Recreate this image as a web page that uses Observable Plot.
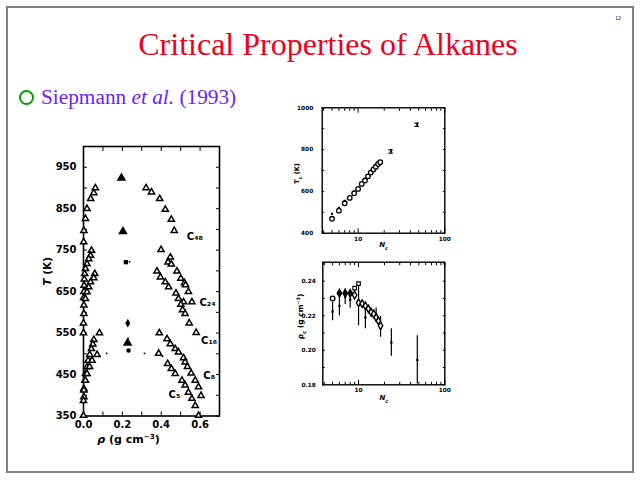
<!DOCTYPE html>
<html><head><meta charset="utf-8">
<script src="https://cdn.jsdelivr.net/npm/d3@7"></script>
<script src="https://cdn.jsdelivr.net/npm/@observablehq/plot@0.6"></script>
<style>
 html,body{margin:0;padding:0;background:#fff;}
 #page{position:relative;width:640px;height:480px;overflow:hidden;background:#fff;}
 #frame{position:absolute;left:6px;top:6px;width:624px;height:463px;border:2px solid #808080;}
 #pagenum{position:absolute;left:615px;top:15px;font:6px "Liberation Serif";color:#000;}
 #title{position:absolute;left:0;top:28px;width:656px;text-align:center;font-family:"Liberation Serif";font-size:32px;line-height:32px;color:#f0001c;white-space:nowrap;}
 #bullet{position:absolute;left:19px;top:90px;width:11px;height:11px;border:2px solid #00a000;border-radius:50%;}
 #sub{position:absolute;left:41px;top:86px;font-family:"Liberation Serif";font-size:21.3px;line-height:22px;color:#6a22ff;white-space:nowrap;}
 .chart{position:absolute;}
 .chart svg{overflow:visible;}
 #main{left:0;top:140px;}
 #inset1{left:285px;top:100px;}
 #inset2{left:285px;top:255px;}
</style></head>
<body><div id="page">
 <div id="frame"></div>
 <div id="pagenum">12</div>
 <div id="title">Critical Properties of Alkanes</div>
 <div id="bullet"></div>
 <div id="sub">Siepmann <i>et al.</i> (1993)</div>
 <div id="main" class="chart"></div>
 <div id="inset1" class="chart"></div>
 <div id="inset2" class="chart"></div>
</div>
<script>
// ---------- Main chart: coexistence curves [density g/cm3, T K] ----------
const c48Vapor  = [[0.061,900],[0.053,888],[0.037,874],[0.018,850],[0.010,826],[0.002,797],[0.001,770]];
const c48Liquid = [[0.322,900],[0.350,890],[0.392,874],[0.421,848],[0.452,824],[0.467,797]];
const c24Vapor  = [[0.041,749],[0.036,737],[0.027,729],[0.018,717],[0.010,705],[0.006,693],[0.004,680],[0.003,665],[0.002,650],[0.001,635]];
const c24Liquid = [[0.399,751],[0.447,733],[0.435,721],[0.452,716],[0.481,699],[0.501,682],[0.520,671],[0.525,666],[0.540,650],[0.515,625],[0.558,625]];
const c16Vapor  = [[0.058,693],[0.053,683],[0.036,673],[0.027,661],[0.018,649],[0.010,633],[0.002,617],[0.002,597],[0.000,574],[0.000,550]];
const c16Liquid = [[0.378,699],[0.396,685],[0.421,673],[0.438,661],[0.476,646],[0.489,633],[0.501,619],[0.510,606],[0.523,597],[0.544,574],[0.580,551]];
const c8Vapor   = [[0.082,550],[0.053,534],[0.048,523],[0.041,512],[0.032,498],[0.024,484],[0.018,468],[0.010,452],[0.007,436],[0.002,416],[0.002,396]];
const c8Liquid  = [[0.390,550],[0.430,536],[0.447,524],[0.472,512],[0.489,504],[0.515,490],[0.523,480],[0.535,469],[0.554,453],[0.575,436],[0.592,420],[0.605,399]];
const c5Vapor   = [[0.070,498],[0.044,484],[0.031,469],[0.018,452],[0.010,436],[0.002,412],[0.000,387],[0.000,351]];
const c5Liquid  = [[0.387,501],[0.433,476],[0.452,464],[0.472,452],[0.507,436],[0.523,424],[0.540,407],[0.558,392],[0.575,375],[0.592,351]];
// critical-point / estimate markers
const critTriangles = [[0.195,924],[0.203,795],[0.227,526]];
const critSquares   = [[0.218,721]];
const critDiamonds  = [[0.228,574]];
const critCircles   = [[0.232,508]];
const smallDots     = [[0.237,722],[0.119,501],[0.314,501],[0.230,537],[0.407,494]];
// curve labels
const curveLabels = ["C₄₈","C₂₄","C₁₆","C₈","C₅"];
const labelRho    = [0.532,0.597,0.605,0.617,0.438];
const labelT      = [783,622,532,448,402];
// axis ticks
const mainYLabels = [350,450,550,650,750,850,950];
const mainYTicks  = [350,400,450,500,550,600,650,700,750,800,850,900,950,1000];
const mainXLabels = [0,0.2,0.4,0.6];
const mainXTicks  = [0,0.1,0.2,0.3,0.4,0.5,0.6,0.7];

// ---------- Inset 1: Tc vs Nc ----------
const tcN      = [5,6,7,8,9,10,11,12,13,14,15,16,17,18];
const tcValues = [469,508,543,569,591,612,636,652,672,690,705,718,731,740];
const tcSqN    = [5,6,7];
const tcSqT    = [493,521,555];
const tcLongN  = [24,48];
const tcLongT  = [791,919];
const tcLongErr= [8,8];
const tcYLabels = [400,600,800,1000];
const tcYTicks  = [400,500,600,700,800,900,1000];

// ---------- Inset 2: rho_c vs Nc ----------
const rhoN      = [5,6,7,8,9,10,11,12,13,14,15,16,17,18];
const rhoValues = [0.230,0.233,0.233,0.233,0.232,0.2275,0.227,0.2257,0.224,0.222,0.221,0.219,0.217,0.2142];
const rhoOpenSqN = [9,10];
const rhoOpenSqV = [0.236,0.2386];
const rhoSimN   = [5,6,7,8,10,12,16,18,24,48];
const rhoSimV   = [0.2224,0.2257,0.231,0.2293,0.2264,0.219,0.2205,0.2135,0.2045,0.1944];
const rhoSimErr = [0.0053,0.0058,0.0045,0.005,0.0122,0.0065,0.004,0.006,0.008,0.014];
const rhoYLabels = [0.18,0.20,0.22,0.24];
const rhoYTicks  = [0.18,0.19,0.20,0.21,0.22,0.23,0.24,0.25];

const logLabels = [10,100];
const logMinor  = [4,5,6,7,8,9,20,30,40,50,60,70,80,90];

// ---------- helpers ----------
const pts = a => a.map(([x,y]) => ({x,y}));
const NS = "http://www.w3.org/2000/svg";
function richify(svg, map){
  svg.querySelectorAll("text").forEach(t => {
    const key = t.textContent;
    if (!map[key]) return;
    while (t.firstChild) t.removeChild(t.firstChild);
    for (const [s, st] of map[key]) {
      const ts = document.createElementNS(NS, "tspan");
      ts.textContent = s;
      if (st.includes("i")) ts.setAttribute("font-style","italic");
      if (st.includes("sub")) { ts.setAttribute("baseline-shift","sub"); ts.setAttribute("font-size","70%"); }
      if (st.includes("sup")) { ts.setAttribute("baseline-shift","super"); ts.setAttribute("font-size","65%"); }
      t.appendChild(ts);
    }
  });
}
const richMap = {
  "T (K)": [["T","i"],[" (K)",""]],
  "ρ (g cm-3)": [["ρ","i"],[" (g cm",""],["−3","sup"],[")",""]],
  "Tc (K)": [["T",""],["c","sub"],[" (K)",""]],
  "ρc (g cm-3)": [["ρ",""],["c","sub"],[" (g cm",""],["−3","sup"],[")",""]],
  "Nc": [["N","i"],["c","sub"]]
};
function frameAxes(xTicks, yTicks, len){
  return [
    Plot.axisY({anchor:"left", ticks:yTicks, tickSize:-len, fill:"none", label:null}),
    Plot.axisY({anchor:"right", ticks:yTicks, tickSize:-len, fill:"none", label:null}),
    Plot.axisX({anchor:"bottom", ticks:xTicks, tickSize:-len, fill:"none", label:null}),
    Plot.axisX({anchor:"top", ticks:xTicks, tickSize:-len, fill:"none", label:null})
  ];
}
const lab = {textAnchor:"middle", lineAnchor:"middle", fontWeight:"bold"};

// ---------- main chart ----------
const openTri = [c48Vapor,c48Liquid,c24Vapor,c24Liquid,c16Vapor,c16Liquid,c8Vapor,c8Liquid,c5Vapor,c5Liquid].flatMap(pts);
const labels = curveLabels.map((n,i) => ({n, x: labelRho[i], y: labelT[i]}));
const main = Plot.plot({
  width: 230, height: 310,
  marginLeft: 83, marginRight: 11, marginTop: 6, marginBottom: 34.5,
  x: {domain:[0,0.7]}, y: {domain:[350,1000]},
  style: {fontFamily:"DejaVu Sans", fontSize:"10px", fontWeight:"bold", color:"black", background:"transparent"},
  marks: [
    Plot.frame({stroke:"black", strokeWidth:1.6}),
    ...frameAxes(mainXTicks, mainYTicks, 4),
    Plot.axisY({anchor:"left", ticks:mainYLabels, tickSize:0, tickPadding:7, label:null, fontSize:10, fontWeight:"bold"}),
    Plot.axisX({anchor:"bottom", ticks:mainXLabels, tickSize:0, tickPadding:5, tickFormat:d3.format(".1f"), label:null, fontSize:10, fontWeight:"bold"}),
    Plot.dot(openTri, {x:"x", y:"y", symbol:"triangle", r:2.3, fill:"white", stroke:"black", strokeWidth:1.5}),
    Plot.dot(pts(critTriangles), {x:"x", y:"y", symbol:"triangle", r:2.6, fill:"black", stroke:"black"}),
    Plot.dot(pts(critSquares), {x:"x", y:"y", symbol:"square", r:2.4, fill:"black"}),
    Plot.dot(pts(critDiamonds), {x:"x", y:"y", symbol:"diamond", r:2.6, fill:"black"}),
    Plot.dot(pts(critCircles), {x:"x", y:"y", symbol:"circle", r:2.2, fill:"black"}),
    Plot.dot(pts(smallDots), {x:"x", y:"y", symbol:"square", r:0.9, fill:"black"}),
    Plot.text(labels, {x:"x", y:"y", text:"n", textAnchor:"start", fontSize:10, fontWeight:"bold"}),
    Plot.text(["T (K)"], {...lab, frameAnchor:"left", rotate:-90, dx:-36, dy:-10, fontSize:10.5}),
    Plot.text(["ρ (g cm-3)"], {...lab, frameAnchor:"bottom", dx:-23, dy:23, fontSize:11})
  ]
});
richify(main, richMap);
document.getElementById("main").appendChild(main);

// ---------- inset 1 ----------
const tcOpen = tcN.map((n,i) => ({x:n, y:tcValues[i]}));
const tcSq = tcSqN.map((n,i) => ({x:n, y:tcSqT[i]}));
const tcLong = tcLongN.map((n,i) => ({x:n, y:tcLongT[i], lo:tcLongT[i]-tcLongErr[i], hi:tcLongT[i]+tcLongErr[i]}));
const inset1 = Plot.plot({
  width: 170, height: 155,
  marginLeft: 36.7, marginRight: 10.7, marginTop: 7.3, marginBottom: 22.3,
  x: {type:"log", domain:[3.85,100]}, y: {domain:[400,1000]},
  style: {fontFamily:"DejaVu Sans", fontSize:"5.5px", fontWeight:"bold", color:"black", background:"transparent"},
  marks: [
    Plot.frame({stroke:"black", strokeWidth:1.4}),
    ...frameAxes(logMinor, tcYTicks, 2.5),
    ...frameAxes(logLabels, [], 4.5),
    Plot.axisY({anchor:"left", ticks:tcYLabels, tickSize:0, tickPadding:9, tickFormat:d=>String(d), label:null, fontSize:5.8, fontWeight:"bold"}),
    Plot.axisX({anchor:"bottom", ticks:logLabels, tickSize:0, tickPadding:4, tickFormat:d=>String(d), label:null, fontSize:5.8, fontWeight:"bold"}),
    Plot.dot(tcOpen, {x:"x", y:"y", symbol:"circle", r:2.3, fill:"white", stroke:"black", strokeWidth:1.3}),
    Plot.dot(tcSq, {x:"x", y:"y", symbol:"square", r:1.2, fill:"black"}),
    Plot.ruleX(tcLong, {x:"x", y1:"lo", y2:"hi", stroke:"black", strokeWidth:1.2}),
    Plot.ruleY(tcLong, {y:"lo", x1:d=>d.x/1.06, x2:d=>d.x*1.06, stroke:"black", strokeWidth:1.2}),
    Plot.ruleY(tcLong, {y:"hi", x1:d=>d.x/1.06, x2:d=>d.x*1.06, stroke:"black", strokeWidth:1.2}),
    Plot.dot(tcLong, {x:"x", y:"y", symbol:"square", r:1, fill:"black"}),
    Plot.text(["Tc (K)"], {...lab, frameAnchor:"left", rotate:-90, dx:-25.7, dy:3, fontSize:6.5}),
    Plot.text(["Nc"], {...lab, frameAnchor:"bottom", dx:0, dy:12, fontSize:7})
  ]
});
richify(inset1, richMap);
document.getElementById("inset1").appendChild(inset1);

// ---------- inset 2 ----------
const rhoFirst = rhoN.map((n,i) => ({x:n, y:rhoValues[i]}));
const rhoOpenSq = rhoOpenSqN.map((n,i) => ({x:n, y:rhoOpenSqV[i]}));
const rhoSim = rhoSimN.map((n,i) => ({x:n, y:rhoSimV[i], lo:Math.max(0.18, rhoSimV[i]-rhoSimErr[i]), hi:rhoSimV[i]+rhoSimErr[i]}));
const inset2 = Plot.plot({
  width: 170, height: 150,
  marginLeft: 37.3, marginRight: 10.7, marginTop: 6.7, marginBottom: 20.7,
  x: {type:"log", domain:[3.85,100]}, y: {domain:[0.18,0.251]},
  style: {fontFamily:"DejaVu Sans", fontSize:"5.5px", fontWeight:"bold", color:"black", background:"transparent"},
  marks: [
    Plot.frame({stroke:"black", strokeWidth:1.4}),
    ...frameAxes(logMinor, rhoYTicks, 2.5),
    ...frameAxes(logLabels, [], 4.5),
    Plot.axisY({anchor:"left", ticks:rhoYLabels, tickSize:0, tickPadding:7, tickFormat:d3.format(".2f"), label:null, fontSize:5.8, fontWeight:"bold"}),
    Plot.axisX({anchor:"bottom", ticks:logLabels, tickSize:0, tickPadding:3, tickFormat:d=>String(d), label:null, fontSize:5.8, fontWeight:"bold"}),
    Plot.ruleX(rhoSim, {x:"x", y1:"lo", y2:"hi", stroke:"black", strokeWidth:1.2}),
    Plot.dot(rhoSim, {x:"x", y:"y", symbol:"square", r:1.3, fill:"black"}),
    Plot.dot(rhoFirst, {x:"x", y:"y", symbol:d=>d.x===5?"circle":"diamond", r:2.3, fill:d=>d.x>=6&&d.x<=8?"black":"white", stroke:"black", strokeWidth:1.4}),
    Plot.dot(rhoOpenSq, {x:"x", y:"y", symbol:"square", r:2, fill:"white", stroke:"black", strokeWidth:1.1}),
    Plot.text(["ρc (g cm-3)"], {...lab, frameAnchor:"left", rotate:-90, dx:-22, dy:-7, fontSize:7.5}),
    Plot.text(["Nc"], {...lab, frameAnchor:"bottom", dx:0, dy:13, fontSize:7})
  ]
});
richify(inset2, richMap);
document.getElementById("inset2").appendChild(inset2);
</script>
</body></html>
